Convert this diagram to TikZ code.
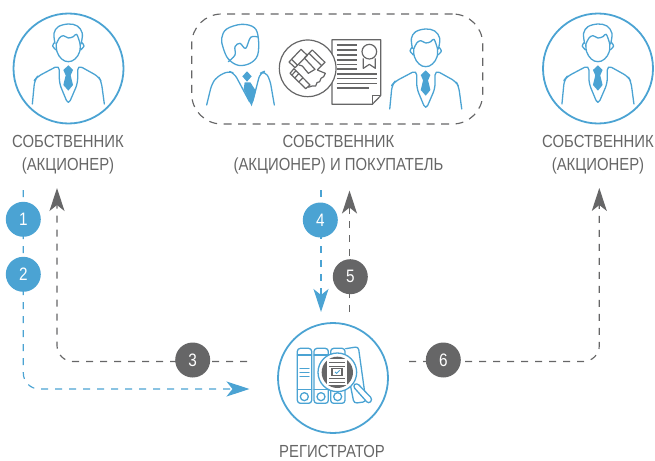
\documentclass[tikz,border=0pt]{standalone}
\usepackage{fontspec}
\setmainfont{Liberation Sans}[FakeStretch=0.85]
\usetikzlibrary{arrows.meta}
\definecolor{bl}{HTML}{4BA3D3}
\definecolor{gr}{HTML}{666667}
\definecolor{tx}{HTML}{666666}
\tikzset{
  ring/.style={draw=bl,line width=1.8pt,circle,minimum size=110pt,inner sep=0pt},
  icon/.style={draw=bl,line width=1.3pt,line join=round,line cap=round},
  gicon/.style={draw=gr,line width=1.2pt,line join=round},
  badgeb/.style={circle,fill=bl,text=white,minimum size=35pt,inner sep=0pt,font=\fontsize{18}{18}\selectfont},
  badgeg/.style={circle,fill=gr,text=white,minimum size=35pt,inner sep=0pt,font=\fontsize{18}{18}\selectfont},
  lab/.style={text=tx,align=center,font=\fontsize{17.5}{23}\selectfont,inner sep=0pt},
  lnb/.style={draw=bl,line width=1.15pt,dash pattern=on 7pt off 7pt,rounded corners=16pt,-{Stealth[length=23pt,width=15pt,inset=6pt,fill=bl]}},
  lng/.style={draw=gr,line width=1.15pt,dash pattern=on 7pt off 7pt,rounded corners=16pt},
  lngt/.style={lng,-{Stealth[length=23pt,width=15pt,inset=6pt,fill=gr]}},
  person/.pic={
    \begin{scope}[scale=1/3]
      \draw[icon] plot[smooth,tension=.6] coordinates {(165,130)(162,100)(175,80)(205,72)(232,78)(247,100)(243,132)};
      \draw[icon] plot[smooth,tension=.6] coordinates {(170,130)(178,114)(190,107)(205,114)(220,110)(230,103)(240,130)};
      \draw[icon] plot[smooth,tension=.7] coordinates {(169,130)(171,155)(185,177)(205,185)(225,177)(239,155)(240,130)};
      \draw[icon] plot[smooth] coordinates {(163,128)(158,138)(168,150)};
      \draw[icon] plot[smooth] coordinates {(246,128)(252,138)(242,150)};
      \draw[icon,rounded corners=5pt] (97,312)--(104,240)--(112,230)--(178,195)--(178,250)--(205,315)--(233,250)--(233,195)--(296,230)--(304,245)--(313,312);
      \fill[bl] (205,196)--(219,210)--(212,226)--(219,255)--(205,272)--(190,255)--(197,226)--(190,210)--cycle;
    \end{scope}
  },
  personb/.pic={
    \begin{scope}[scale=1/3]
      \draw[icon] plot[smooth cycle,tension=.6] coordinates {(110,100)(125,72)(170,58)(208,68)(220,100)(218,150)(195,175)(160,181)(130,162)(115,130)};
      \draw[icon] plot[smooth,tension=.6] coordinates {(219,96)(197,97)(182,130)(165,115)(150,125)(150,150)(130,170)};
      \draw[icon,rounded corners=5pt] (65,300)--(80,238)--(95,216)--(130,198)--(148,205)--(200,302)--(225,205)--(240,198)--(255,225)--(268,300);
      \fill[bl] (186,199)--(200,214)--(186,230)--(172,214)--cycle;
      \fill[bl] (179,232)--(196,232)--(213,258)--(200,304)--(176,252)--cycle;
    \end{scope}
  }
}
\begin{document}
\begin{tikzpicture}[x=1pt,y=-1pt]
\useasboundingbox (0,0) rectangle (655,460);
\node[ring] (owner1) at (68.5,68.5) {};
\node[ring] (owner3) at (598,68.5) {};
\node[ring] (reg) at (333,378) {};
\pic at (0,0) {person};
\pic at (529.6,0) {person};
\pic at (357.4,5) {person};
\node[draw=gr,line width=1.15pt,dash pattern=on 8pt off 6.5pt,rounded corners=30pt,minimum width=291pt,minimum height=110pt,inner sep=0pt] (deal) at (337.2,69) {};
\begin{scope}[shift={(185,5)}]
\pic at (0,0) {personb};
\begin{scope}[scale=1/3]
  \draw[gicon] (441,104)--(587,104)--(587,272)--(562,298)--(441,298)--cycle;
  \draw[gicon] (587,272)--(562,272)--(562,298);
  \foreach \yy in {120,135,150,165,178,192}{\draw[gicon] (455,\yy)--(515,\yy);}
  \foreach \yy in {207,221,235}{\draw[gicon] (455,\yy)--(576,\yy);}
  \draw[gicon] (455,249)--(552,249);
  \draw[gicon] (553,140) circle (22);
  \draw[gicon] (535,160)--(535,190)--(553,178)--(571,190)--(571,160);
  \draw[gicon,fill=white] (368,190) circle (85);
\end{scope}
\end{scope}
\begin{scope}[shift={(275,30)},scale=1/3]
  \draw[gicon] (42,96)--(78,58)--(97,76)--(60,113)--cycle;
  \draw[gicon] (50,88)--(68,106);
  \draw[gicon] (88,84)--(112,60)--(150,97)--(127,120);
  \draw[gicon] (102,70)--(140,107);
  \draw[gicon] (88,84)--(120,118)--(100,130)--(82,108)--(72,105);
  \draw[gicon] (45,130)--(57,116)--(105,165)--(92,176)--cycle;
  \draw[gicon] (63,122)--(50,136);
  \draw[gicon] (72,130)--(59,145);
  \draw[gicon] (84,143)--(70,157);
  \draw[gicon] (127,120)--(151,130)--(146,140)--(138,145)--(134,155)--(126,158)--(122,168)--(112,168)--(100,172);
\end{scope}
\begin{scope}[shift={(290,340)},scale=1/3]
  \foreach \xa in {22,72,122}{
    \draw[icon,rounded corners=3pt] (\xa,190)--(\xa,25)--(\xa+43,25)--(\xa+43,190)--cycle;
    \draw[icon] (\xa,45)--(\xa+43,45);
    \draw[icon] (\xa+21,170) circle (12);
    \draw[icon] (\xa,148)--(\xa+43,148);
  }
  \foreach \yy in {85,97,110}{\draw[icon] (30,\yy)--(57,\yy);}
  \draw[icon,rounded corners=3pt] (167,26)--(205,20)--(228,185)--(192,190)--(180,130);
  \draw[icon,fill=white,rounded corners=3pt] (188,138)--(200,128)--(248,178)--(236,192)--cycle;
  \draw[icon,fill=white] (142,97) circle (58);
  \fill[gr] (142,97) circle (47);
  \fill[white] (111,58) rectangle (172,136);
  \foreach \yy in {68,78,116,126}{\draw[gr,line width=1pt] (118,\yy)--(165,\yy);}
  \fill[gr] (124,84) rectangle (159,108);
  \fill[white] (129,88) rectangle (154,104);
  \draw[bl,line width=1pt] (135,96)--(140,100)--(149,91);
\end{scope}
\coordinate (a) at (23.3,190);
\coordinate (b) at (249.5,389);
\coordinate (c) at (247,361.5);
\coordinate (d) at (57,188);
\coordinate (e) at (321,190);
\coordinate (f) at (321,312);
\coordinate (g) at (349.5,312);
\coordinate (h) at (349.5,190.5);
\coordinate (i) at (409,361.5);
\coordinate (j) at (599.3,188);
\draw[lnb] (a)|-(b);
\draw[lngt] (c)-|(d);
\draw[lnb,rounded corners=0pt] (e)--(f);
\draw[lngt,rounded corners=0pt] (g)--(h);
\draw[lngt] (i)-|(j);
\node[badgeb] (n1) at (23.3,219.3) {1};
\node[badgeb] (n2) at (23.3,274.3) {2};
\node[badgeg] (n3) at (192.7,360) {3};
\node[badgeb] (n4) at (320.3,220) {4};
\node[badgeg] (n5) at (350.3,276.7) {5};
\node[badgeg] (n6) at (443.3,360) {6};
\node[lab] (t1) at (68,155) {СОБСТВЕННИК\\(АКЦИОНЕР)};
\node[lab] (t2) at (338.5,155) {СОБСТВЕННИК\\(АКЦИОНЕР) И ПОКУПАТЕЛЬ};
\node[lab] (t3) at (598,155) {СОБСТВЕННИК\\(АКЦИОНЕР)};
\node[lab] (t4) at (332,451) {РЕГИСТРАТОР};
\end{tikzpicture}
\end{document}
